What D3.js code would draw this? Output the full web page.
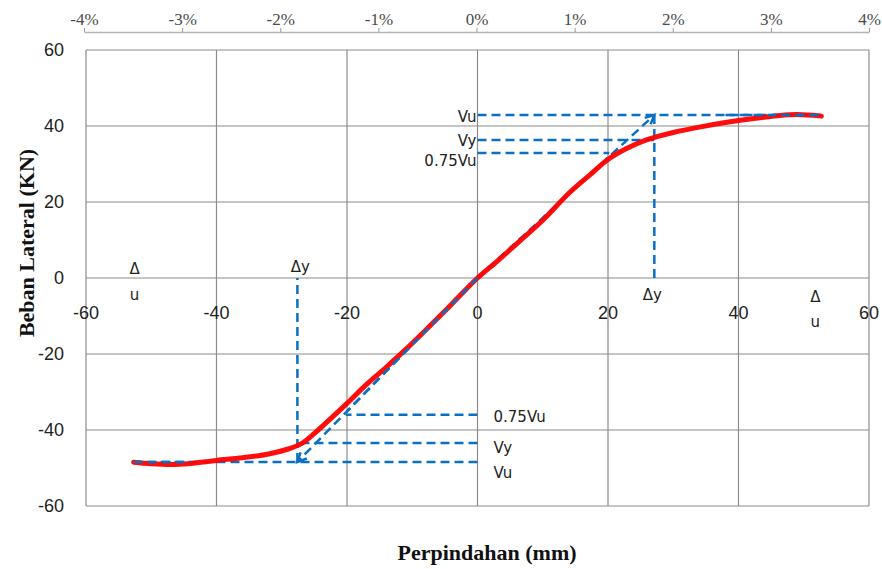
<!DOCTYPE html>
<html>
<head>
<meta charset="utf-8">
<title>beban lateral</title>
<script type="text/javascript" src="https://cdn.jsdelivr.net/npm/d3@7"></script>
<style>
  body { margin: 0; background: #fff; }
</style>
</head>
<body>
<script type="text/javascript">
// data
var dispX = [-52.7, -50, -47, -44, -40, -36, -32, -29, -27, -25, -22.5, -20, -17, -14, -11, -8, -5, -2.5, 0,
             3, 6, 10, 14, 17, 20, 23, 26, 30, 34, 38, 42, 46, 49, 52.7]
var loadY = [-48.5, -48.9, -49.1, -48.8, -48.0, -47.3, -46.3, -45.0, -43.6, -40.9, -37.0, -33.0, -28.0, -23.5, -18.8, -13.8, -8.7, -4.3, 0,
             4.4, 9.0, 15.2, 22.3, 26.8, 31.2, 34.2, 36.4, 38.3, 39.7, 40.9, 41.9, 42.7, 43.0, 42.6]
var xTicks = [-60, -40, -20, 0, 20, 40, 60]
var yTicks = [-60, -40, -20, 0, 20, 40, 60]
var pctTicks = [-4, -3, -2, -1, 0, 1, 2, 3, 4]

// bilinear idealisation (kN, mm)
var vuPos = 42.9, vyPos = 36.3, v75Pos = 32.9, dyPos = 27.1, duPos = 52.7
var vuNeg = -48.4, vyNeg = -43.4, v75Neg = -36.0, dyNeg = -27.6, duNeg = -52.7
var x75Pos = 20.2, x75Neg = -20.2

var w = 882, h = 569
var svg = d3.select("body").append("svg").attr("width", w).attr("height", h)

var x = d3.scaleLinear().domain([-60, 60]).range([86, 869])
var y = d3.scaleLinear().domain([-60, 60]).range([506, 50])
var pct = d3.scaleLinear().domain([-4, 4]).range([84, 869])

var grid = "#8c8c8c"
var sans = "Liberation Sans, Arial, sans-serif"
var serif = "Liberation Serif, Times New Roman, serif"

// grid
svg.selectAll(".vg").data(xTicks).enter().append("line")
  .attr("x1", d => x(d)).attr("x2", d => x(d))
  .attr("y1", y(60)).attr("y2", y(-60))
  .attr("stroke", grid).attr("stroke-width", 1.2)
svg.selectAll(".hg").data(yTicks).enter().append("line")
  .attr("x1", x(-60)).attr("x2", x(60))
  .attr("y1", d => y(d)).attr("y2", d => y(d))
  .attr("stroke", grid).attr("stroke-width", 1.2)

// y tick labels
svg.selectAll(".yl").data(yTicks).enter().append("text")
  .attr("x", 64).attr("y", d => y(d)).attr("dy", "0.35em")
  .attr("text-anchor", "end")
  .style("font-family", sans).style("font-size", "18px")
  .attr("fill", "#222")
  .text(d => d)

// x tick labels (under zero line)
svg.selectAll(".xl").data(xTicks).enter().append("text")
  .attr("x", d => x(d)).attr("y", y(0) + 35)
  .attr("dy", "0.35em")
  .attr("text-anchor", "middle")
  .style("font-family", sans).style("font-size", "18px")
  .attr("fill", "#222")
  .text(d => d)

// top drift axis
var topAxis = d3.axisTop(pct).tickValues(pctTicks).tickSizeInner(4).tickSizeOuter(0).tickPadding(3)
  .tickFormat(d => d + "%")
var gt = svg.append("g").attr("transform", "translate(0,32)").call(topAxis)
gt.select(".domain").attr("stroke", "#b5b5b5").attr("stroke-width", 1.5)
gt.selectAll(".tick line").attr("stroke", "#999")
gt.selectAll(".tick text").style("font-family", serif)
  .style("font-size", "17px").attr("fill", "#4a4a4a")

// idealised lines
var blue = "#0a70c4"
var dash = "9,5"
function dl(x1, y1, x2, y2) {
  svg.append("line")
    .attr("x1", x(x1)).attr("y1", y(y1)).attr("x2", x(x2)).attr("y2", y(y2))
    .attr("stroke", blue).attr("stroke-width", 2.5).attr("stroke-dasharray", dash)
}
// positive side
dl(0, vuPos, duPos, vuPos)
dl(0, vyPos, dyPos, vyPos)
dl(0, v75Pos, x75Pos, v75Pos)
dl(dyPos, vuPos, dyPos, 0)
dl(0, 0, dyPos, vuPos)
// negative side
dl(0, vuNeg, duNeg, vuNeg)
dl(0, vyNeg, dyNeg, vyNeg)
dl(0, v75Neg, x75Neg, v75Neg)
dl(dyNeg, vuNeg, dyNeg, 0)
dl(0, 0, dyNeg, vuNeg)

// arrow heads at the diagonal ends
function head(xe, ye) {
  var a = Math.atan2(y(ye) - y(0), x(xe) - x(0))
  var px = x(xe), py = y(ye), L = 10
  var p = d3.path()
  p.moveTo(px - L * Math.cos(a - 0.45), py - L * Math.sin(a - 0.45))
  p.lineTo(px, py)
  p.lineTo(px - L * Math.cos(a + 0.45), py - L * Math.sin(a + 0.45))
  svg.append("path").attr("d", p.toString()).attr("fill", "none")
    .attr("stroke", blue).attr("stroke-width", 2.5)
}
head(dyPos, vuPos)
head(dyNeg, vuNeg)

// test curve
var pts = dispX.map((d, i) => [d, loadY[i]])
var line = d3.line().x(d => x(d[0])).y(d => y(d[1])).curve(d3.curveCatmullRom)
svg.append("path").datum(pts).attr("d", line)
  .attr("fill", "none").attr("stroke", "#ff0000").attr("stroke-width", 5)
  .attr("stroke-linecap", "round").attr("stroke-opacity", 0.95)

// blue dashes show through the flat ends and the linear part of the curve
dl(38, vuPos, duPos, vuPos)
dl(-52.7, vuNeg, -44, vuNeg)
dl(0, 0, -20, -20 * vuNeg / dyNeg)

// annotation labels
var lf = "DejaVu Sans, Verdana, sans-serif"
function lab(t, px, py, anchor) {
  svg.append("text").attr("x", px).attr("y", py).attr("dy", "0.35em")
    .attr("text-anchor", anchor)
    .style("font-family", lf).style("font-size", "15px").attr("fill", "#222")
    .text(t)
}
lab("Vu", x(0) - 1, y(vuPos) + 2, "end")
lab("Vy", x(0) - 1, y(vyPos) + 1, "end")
lab("0.75Vu", x(0) - 1, y(v75Pos) + 8, "end")
lab("0.75Vu", x(0) + 16, y(v75Neg) + 2, "start")
lab("Vy", x(0) + 16, y(vyNeg) + 5, "start")
lab("Vu", x(0) + 16, y(vuNeg) + 11, "start")
lab("Δy", x(dyPos) - 2, y(0) + 17, "middle")
lab("Δy", x(dyNeg) + 3, y(0) - 11, "middle")
lab("Δ", x(duNeg) + 1, y(0) - 9, "middle")
lab("u", x(duNeg) + 1, y(0) + 17, "middle")
lab("Δ", x(duPos) - 6, y(0) + 19, "middle")
lab("u", x(duPos) - 6, y(0) + 44, "middle")

// axis titles
svg.append("text").attr("transform", "translate(26,243) rotate(-90)")
  .attr("text-anchor", "middle").attr("dy", "0.35em")
  .style("font-family", serif)
  .style("font-weight", "bold").style("font-size", "22px").attr("fill", "#111")
  .text("Beban Lateral (KN)")
svg.append("text").attr("x", 487).attr("y", 560)
  .attr("text-anchor", "middle")
  .style("font-family", serif)
  .style("font-weight", "bold").style("font-size", "22px").attr("fill", "#111")
  .text("Perpindahan (mm)")
</script>
</body>
</html>
